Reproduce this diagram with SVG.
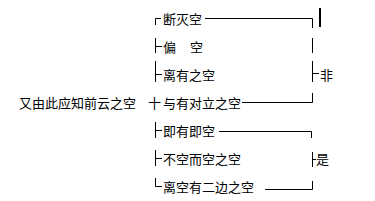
<svg xmlns="http://www.w3.org/2000/svg" width="375" height="201" viewBox="0 0 375 201">
<style>
text{font-family:"Noto Sans CJK SC","Noto Sans",sans-serif;font-size:13px;fill:#000;dominant-baseline:central}
.c line{stroke:#000;stroke-width:1;fill:none}
</style>
<rect width="375" height="201" fill="#fff"/>
<g id="n-root"><text x="19" y="102" textLength="117" lengthAdjust="spacingAndGlyphs">又由此应知前云之空</text><text x="148" y="102">十</text></g>
<g id="n1"><text x="163" y="18">断灭空</text></g>
<g id="n2"><text x="163" y="46">偏</text><text x="190" y="46">空</text></g>
<g id="n3"><text x="163" y="74">离有之空</text></g>
<g id="n4"><text x="163" y="102">与有对立之空</text></g>
<g id="n5"><text x="163" y="130">即有即空</text></g>
<g id="n6"><text x="163" y="158">不空而空之空</text></g>
<g id="n7"><text x="163" y="186">离空有二边之空</text></g>
<g id="n-fei"><text x="320" y="74">非</text></g>
<g id="n-shi"><text x="316" y="158">是</text></g>
<g class="c" id="connectors">
<line x1="155.5" y1="18.5" x2="161" y2="18.5"/>
<line x1="155.5" y1="18.5" x2="155.5" y2="25"/>
<line x1="155.5" y1="38" x2="155.5" y2="53"/>
<line x1="155.5" y1="46.5" x2="162" y2="46.5"/>
<line x1="155.5" y1="61" x2="155.5" y2="82"/>
<line x1="155.5" y1="74.5" x2="162" y2="74.5"/>
<line x1="155.5" y1="122" x2="155.5" y2="138"/>
<line x1="155.5" y1="130.5" x2="162" y2="130.5"/>
<line x1="155.5" y1="150" x2="155.5" y2="166"/>
<line x1="155.5" y1="158.5" x2="162" y2="158.5"/>
<line x1="155.5" y1="178" x2="155.5" y2="186.5"/>
<line x1="155.5" y1="186.5" x2="162" y2="186.5"/>
<line x1="205" y1="18.5" x2="312.5" y2="18.5"/>
<line x1="312.5" y1="18.5" x2="312.5" y2="28"/>
<line x1="312.5" y1="38" x2="312.5" y2="53"/>
<line x1="312.5" y1="61" x2="312.5" y2="82"/>
<line x1="312.5" y1="73.5" x2="319" y2="73.5"/>
<line x1="312.5" y1="93" x2="312.5" y2="102.5"/>
<line x1="242" y1="102.5" x2="312.5" y2="102.5"/>
<line x1="219" y1="131.5" x2="311.5" y2="131.5"/>
<line x1="311.5" y1="131.5" x2="311.5" y2="138"/>
<line x1="312.5" y1="152" x2="312.5" y2="167"/>
<line x1="312.5" y1="159.5" x2="316" y2="159.5"/>
<line x1="312.5" y1="181" x2="312.5" y2="189.5"/>
<line x1="265" y1="189.5" x2="312.5" y2="189.5"/>
<line x1="320" y1="8" x2="320" y2="27" style="stroke-width:2"/>
</g>
</svg>
